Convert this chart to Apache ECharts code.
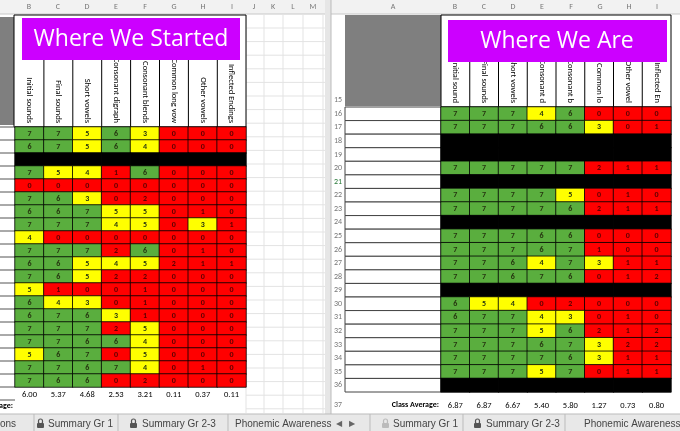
<!DOCTYPE html>
<html><head><meta charset="utf-8">
<script src="https://cdn.jsdelivr.net/npm/echarts@6/dist/echarts.min.js"></script>
<style>html,body{margin:0;padding:0;background:#fff}#main{width:680px;height:431px}</style>
</head><body><div id="main"></div>
<script>
// -1 = blacked-out row
const leftHeaders = ['Initial sounds', 'Final sounds', 'Short vowels', 'Consonant digraph', 'Consonant blends', 'Common long vow', 'Other vowels', 'Inflected Endings'];
const rightHeaders = ['Initial sound', 'Final sounds', 'Short vowels', 'Consonant d', 'Consonant b', 'Common lo', 'Other vowel', 'Inflected En'];
const leftRows = [
  [7, 7, 5, 6, 3, 0, 0, 0],
  [6, 7, 5, 6, 4, 0, 0, 0],
  [-1, -1, -1, -1, -1, -1, -1, -1],
  [7, 5, 4, 1, 6, 0, 0, 0],
  [0, 0, 0, 0, 0, 0, 0, 0],
  [7, 6, 3, 0, 2, 0, 0, 0],
  [6, 6, 7, 5, 5, 0, 1, 0],
  [7, 7, 7, 4, 5, 0, 3, 1],
  [4, 0, 0, 0, 0, 0, 0, 0],
  [7, 7, 7, 2, 6, 0, 1, 0],
  [6, 6, 5, 4, 5, 2, 1, 1],
  [7, 6, 5, 2, 2, 0, 0, 0],
  [5, 1, 0, 0, 1, 0, 0, 0],
  [6, 4, 3, 0, 1, 0, 0, 0],
  [6, 7, 6, 3, 1, 0, 0, 0],
  [7, 7, 7, 2, 5, 0, 0, 0],
  [7, 7, 6, 6, 4, 0, 0, 0],
  [5, 6, 7, 0, 5, 0, 0, 0],
  [7, 7, 6, 7, 4, 0, 1, 0],
  [7, 6, 6, 0, 2, 0, 0, 0]
];
const leftAverages = ['6.00', '5.37', '4.68', '2.53', '3.21', '0.11', '0.37', '0.11'];
const rightRowNumbers = [16, 17, 18, 19, 20, 21, 22, 23, 24, 25, 26, 27, 28, 29, 30, 31, 32, 33, 34, 35, 36];
const rightRows = [
  [7, 7, 7, 4, 6, 0, 0, 0],
  [7, 7, 7, 6, 6, 3, 0, 1],
  [-1, -1, -1, -1, -1, -1, -1, -1],
  [-1, -1, -1, -1, -1, -1, -1, -1],
  [7, 7, 7, 7, 7, 2, 1, 1],
  [-1, -1, -1, -1, -1, -1, -1, -1],
  [7, 7, 7, 7, 5, 0, 1, 0],
  [7, 7, 7, 7, 6, 2, 1, 1],
  [-1, -1, -1, -1, -1, -1, -1, -1],
  [7, 7, 7, 6, 6, 0, 0, 0],
  [7, 7, 7, 6, 7, 1, 0, 0],
  [7, 7, 6, 4, 7, 3, 1, 1],
  [7, 7, 6, 7, 6, 0, 1, 2],
  [-1, -1, -1, -1, -1, -1, -1, -1],
  [6, 5, 4, 0, 2, 0, 0, 0],
  [6, 7, 7, 4, 3, 0, 1, 0],
  [7, 7, 7, 5, 6, 2, 1, 2],
  [7, 7, 7, 6, 7, 3, 2, 2],
  [7, 7, 7, 7, 6, 3, 1, 1],
  [7, 7, 7, 5, 7, 0, 1, 1],
  [-1, -1, -1, -1, -1, -1, -1, -1]
];
const rightAverages = ['6.87', '6.87', '6.67', '5.40', '5.80', '1.27', '0.73', '0.80'];
const leftTabs = ['ons', 'Summary Gr 1', 'Summary Gr 2-3', 'Phonemic Awareness'];
const rightTabs = ['Summary Gr 1', 'Summary Gr 2-3', 'Phonemic Awareness'];

const FONT = 'Calibri, Carlito, "Liberation Sans", sans-serif';

function cellColor(v) {
  if (v < 0) return '#000';
  if (v <= 2) return '#ff0000';
  if (v <= 5) return '#ffff00';
  return '#5aae3e';
}

function toData(rows) {
  const out = [];
  rows.forEach((r, y) => r.forEach((v, x) => {
    out.push({
      value: [x, y, v],
      itemStyle: { color: cellColor(v) },
      label: { show: v >= 0, color: v <= 2 ? '#5a0000' : '#263510' }
    });
  }));
  return out;
}
const rowIdx = n => Array.from({ length: n }, (_, i) => i);

const chart = echarts.init(document.getElementById('main'));

const g = [];
const txt = (t, x, y, font, fill, align) => g.push({ type: 'text', style: { text: t, x: x, y: y, fill: fill || '#777', font: font, align: align || 'center', verticalAlign: 'middle' } });
// column letter header strip
g.push({ type: 'rect', shape: { x: 0, y: 0, width: 680, height: 14 }, style: { fill: '#f2f2f2' }, z: 0 });
g.push({ type: 'line', shape: { x1: 0, y1: 14, x2: 680, y2: 14 }, style: { stroke: '#c8c8c8' } });
[['B', 29], ['C', 58], ['D', 87], ['E', 116], ['F', 145], ['G', 174], ['H', 203], ['I', 232], ['J', 254], ['K', 273], ['L', 293], ['M', 313],
 ['A', 393], ['B', 455], ['C', 484], ['D', 513], ['E', 542], ['F', 571], ['G', 600], ['H', 629], ['I', 657]]
  .forEach(([t, x]) => txt(t, x, 7, '8px ' + FONT));
// spare spreadsheet gridlines on left pane (J-M)
[246, 264, 283, 303, 323].forEach(x => g.push({ type: 'line', shape: { x1: x, y1: 14, x2: x, y2: 413 }, style: { stroke: '#e3e3e3' } }));
for (let y = 28; y < 413; y += 13.6) g.push({ type: 'line', shape: { x1: 246, y1: y, x2: 325, y2: y }, style: { stroke: '#e3e3e3' } });
// left pane gray block & header area
g.push({ type: 'rect', shape: { x: 0, y: 17, width: 14, height: 108 }, style: { fill: '#7f7f7f' } });
g.push({ type: 'rect', shape: { x: 14, y: 15, width: 232, height: 112 }, style: { fill: '#fff', stroke: '#000', lineWidth: 1 } });
for (let i = 1; i < 8; i++) g.push({ type: 'line', shape: { x1: 15 + i * 28.9, y1: 38, x2: 15 + i * 28.9, y2: 127 }, style: { stroke: '#000' } });
for (let i = 0; i <= 21; i++) g.push({ type: 'line', shape: { x1: 0, y1: 127 + i * 13, x2: 15, y2: 127 + i * 13 }, style: { stroke: '#555' } });
txt('age:', 13, 406, 'bold 8px ' + FONT, '#000', 'right');
// pane divider
g.push({ type: 'rect', shape: { x: 325, y: 0, width: 6, height: 431 }, style: { fill: '#e6e6e6' } });
g.push({ type: 'line', shape: { x1: 331, y1: 0, x2: 331, y2: 431 }, style: { stroke: '#bbb' } });
// right pane: row numbers and column A
g.push({ type: 'rect', shape: { x: 345, y: 15, width: 96, height: 91 }, style: { fill: '#7f7f7f' } });
g.push({ type: 'rect', shape: { x: 441, y: 15, width: 230, height: 92 }, style: { fill: '#fff', stroke: '#000', lineWidth: 1 } });
for (let i = 1; i < 8; i++) g.push({ type: 'line', shape: { x1: 441 + i * 28.75, y1: 60, x2: 441 + i * 28.75, y2: 107 }, style: { stroke: '#000' } });
txt('15', 338, 100, '8px ' + FONT);
const rh = 285 / 21;
rightRowNumbers.forEach((n, i) => {
  const y = 107 + i * rh;
  txt(String(n), 338, y + rh / 2, '8px ' + FONT, n === 21 ? '#2a7a3a' : '#777');
  g.push({ type: 'rect', shape: { x: 345, y: y, width: 96, height: rh }, style: { fill: '#fff', stroke: '#444', lineWidth: 1 } });
});
txt('37', 338, 405, '8px ' + FONT);
txt('Class Average:', 439, 405, 'bold 8px ' + FONT, '#000', 'right');
// titles
g.push({ type: 'rect', shape: { x: 22, y: 18, width: 218, height: 42 }, style: { fill: '#cc00ff' }, z: 10 });
g.push({ type: 'text', style: { text: 'Where We Started', x: 131, y: 39, fill: '#fff', font: '23px "Open Sans", sans-serif', align: 'center', verticalAlign: 'middle' }, z: 11 });
g.push({ type: 'rect', shape: { x: 448, y: 20, width: 219, height: 42 }, style: { fill: '#cc00ff' }, z: 10 });
g.push({ type: 'text', style: { text: 'Where We Are', x: 557, y: 41, fill: '#fff', font: '23px "Open Sans", sans-serif', align: 'center', verticalAlign: 'middle' }, z: 11 });
// sheet tabs
g.push({ type: 'rect', shape: { x: 0, y: 414, width: 680, height: 17 }, style: { fill: '#e8e8e8' } });
g.push({ type: 'line', shape: { x1: 0, y1: 414, x2: 680, y2: 414 }, style: { stroke: '#bbb' } });
const TAB = '10px "Liberation Sans", sans-serif';
function lock(x, c) {
  g.push({ type: 'rect', shape: { x: x, y: 423, width: 7, height: 5, r: 1 }, style: { fill: c } });
  g.push({ type: 'rect', shape: { x: x + 1.5, y: 419, width: 4, height: 5, r: 2 }, style: { fill: 'none', stroke: c, lineWidth: 1.2 } });
}
[34, 118, 228].forEach(x => g.push({ type: 'line', shape: { x1: x, y1: 414, x2: x, y2: 431 }, style: { stroke: '#bbb' } }));
txt(leftTabs[0], 0, 424, TAB, '#444', 'left');
lock(37, '#555'); txt(leftTabs[1], 48, 424, TAB, '#444', 'left');
lock(130, '#555'); txt(leftTabs[2], 142, 424, TAB, '#444', 'left');
txt(leftTabs[3], 235, 424, TAB, '#444', 'left');
txt('◀   ▶', 336, 424, '8px sans-serif', '#666', 'left');
[370, 463, 565].forEach(x => g.push({ type: 'line', shape: { x1: x, y1: 414, x2: x, y2: 431 }, style: { stroke: '#bbb' } }));
lock(382, '#bbb'); txt(rightTabs[0], 393, 424, TAB, '#444', 'left');
lock(474, '#555'); txt(rightTabs[1], 486, 424, TAB, '#444', 'left');
txt(rightTabs[2], 584, 424, TAB, '#444', 'left');

function headerAxis(grid, names) {
  return {
    type: 'category', gridIndex: grid, position: 'top', data: names,
    axisLine: { show: false }, axisTick: { show: false }, splitLine: { show: false },
    axisLabel: { rotate: 90, margin: 4, fontSize: 8.5, color: '#000', fontFamily: FONT, interval: 0 }
  };
}
function avgAxis(grid, vals, margin) {
  return {
    type: 'category', gridIndex: grid, position: 'bottom', data: vals,
    axisLine: { show: false }, axisTick: { show: false },
    axisLabel: { margin: margin, fontSize: 8.5, color: '#000', fontFamily: FONT, interval: 0 }
  };
}
function rowAxis(grid, n) {
  return { type: 'category', gridIndex: grid, inverse: true, data: rowIdx(n), show: false };
}
function cells(xi, yi, rows) {
  return {
    type: 'heatmap', xAxisIndex: xi, yAxisIndex: yi, data: toData(rows),
    label: { show: true, fontSize: 8, fontWeight: 'bold', fontFamily: FONT, formatter: p => p.value[2] < 0 ? '' : p.value[2] },
    itemStyle: { borderColor: '#000', borderWidth: 0.8 },
    emphasis: { disabled: true }
  };
}

chart.setOption({
  animation: false,
  grid: [
    { left: 15, top: 127, width: 231, height: 13 * leftRows.length },
    { left: 441, top: 107, width: 230, height: 285 }
  ],
  xAxis: [
    headerAxis(0, leftHeaders), avgAxis(0, leftAverages, 3),
    headerAxis(1, rightHeaders), avgAxis(1, rightAverages, 9)
  ],
  yAxis: [rowAxis(0, leftRows.length), rowAxis(1, rightRows.length)],
  series: [
    cells(0, 0, leftRows),
    cells(2, 1, rightRows),
    { type: 'heatmap', xAxisIndex: 1, yAxisIndex: 0, data: [], silent: true },
    { type: 'heatmap', xAxisIndex: 3, yAxisIndex: 1, data: [], silent: true }
  ],
  graphic: g
});
</script></body></html>
